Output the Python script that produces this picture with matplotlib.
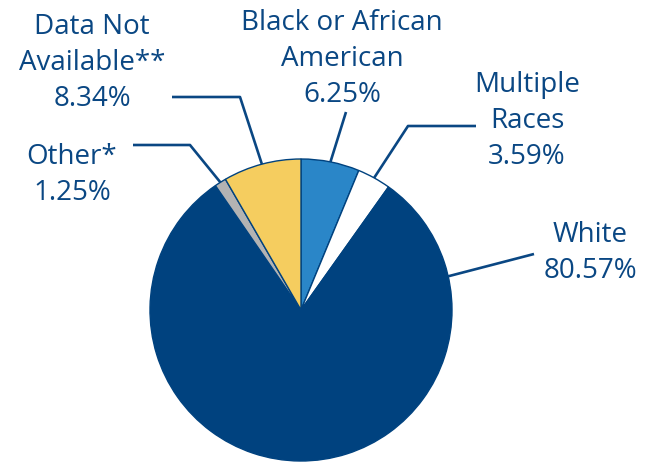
import matplotlib
matplotlib.use("Agg")
import matplotlib.pyplot as plt
import numpy as np

categories = ["Black or African\nAmerican", "Multiple\nRaces", "White", "Other*", "Data Not\nAvailable**"]
values = [6.25, 3.59, 80.57, 1.25, 8.34]
colors = ["#2a86c8", "#ffffff", "#00427f", "#b3b3b3", "#f5cd5f"]

TXT = "#0a4783"
W, H = 657, 464
plt.rcParams["font.family"] = ["Open Sans", "DejaVu Sans"]
fig = plt.figure(figsize=(W / 100, H / 100), dpi=100)
ax = fig.add_axes([0, 0, 1, 1])

cx, cy, R = 301, H - 311, 151
wedges, _ = ax.pie(values, colors=colors, startangle=90, counterclock=False,
                   center=(cx, cy), radius=R, frame=True,
                   wedgeprops=dict(edgecolor="#00427f", linewidth=1.0))
ax.set_xlim(0, W)
ax.set_ylim(0, H)
ax.axis("off")

# layout: text centre, optional rim angle for leader, leader elbow/end points
layout = [
    dict(tx=342, ty=59, ang=None, pts=[(346, 113)]),
    dict(tx=527, ty=121, ang=None, pts=[(408, 127), (476, 127)]),
    dict(tx=590, ty=253, ang=12.9, pts=[(534, 255)]),
    dict(tx=72, ty=175, ang=None, pts=[(190, 146), (133, 146)]),
    dict(tx=92, ty=63, ang=None, pts=[(240, 98), (172, 98)]),
]

for w, lab, v, L in zip(wedges, categories, values, layout):
    ang = L["ang"] if L["ang"] is not None else (w.theta1 + w.theta2) / 2
    a = np.deg2rad(ang)
    x0, y0 = cx + R * np.cos(a), cy + R * np.sin(a)
    xs = [x0] + [p[0] for p in L["pts"]]
    ys = [y0] + [H - p[1] for p in L["pts"]]
    ax.plot(xs, ys, color=TXT, lw=1.9, solid_capstyle="butt", zorder=0)
    ax.text(L["tx"], H - L["ty"], f"{lab}\n{v:.2f}%", ha="center", va="center",
            fontsize=20, color=TXT, linespacing=1.36)

fig.savefig("out.png", dpi=100)
